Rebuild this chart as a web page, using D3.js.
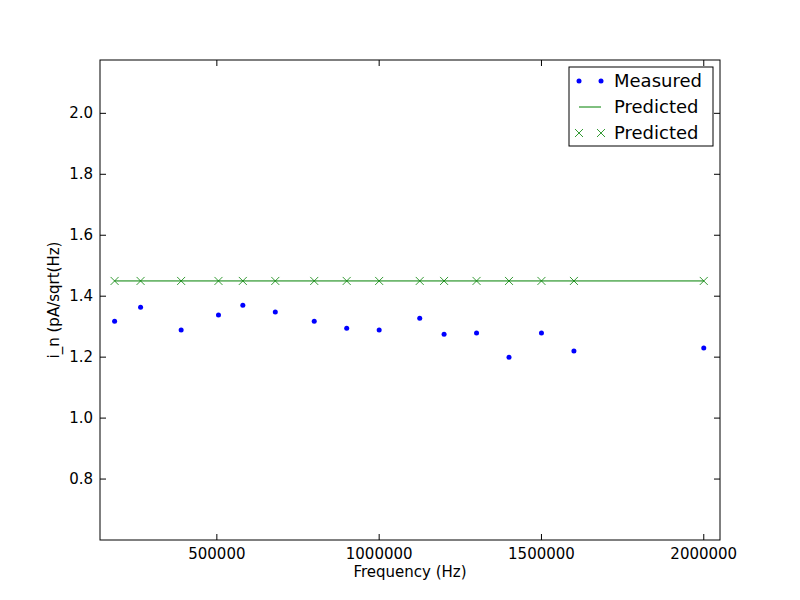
<!DOCTYPE html>
<html><head><meta charset="utf-8">
<script src="https://cdn.jsdelivr.net/npm/d3@7"></script>
<style>body{margin:0;background:#fff}text{font-family:"DejaVu Sans",sans-serif}</style>
</head><body><svg id="c" width="800" height="600"></svg>
<script>
const freq = [185000,265000,390000,505000,580000,680000,800000,900000,1000000,1125000,1200000,1300000,1400000,1500000,1600000,2000000];
const measured = [1.318,1.364,1.289,1.338,1.370,1.348,1.318,1.295,1.289,1.328,1.275,1.279,1.200,1.279,1.220,1.230];
const predicted = freq.map(()=>1.45);
const xTicks = [500000,1000000,1500000,2000000];
const yTicks = [0.8,1.0,1.2,1.4,1.6,1.8,2.0];

const svg = d3.select("#c");
const L=100,R=720,T=60,B=540;
const x = d3.scaleLinear().domain([140000,2050000]).range([L,R]);
const y = d3.scaleLinear().domain([0.6,2.175]).range([B,T]);

svg.append("rect").attr("width",800).attr("height",600).attr("fill","#fff");
const fmtY = d3.format(".1f");
const g = svg.append("g");
xTicks.forEach(v=>{
  g.append("line").attr("x1",x(v)).attr("x2",x(v)).attr("y1",B).attr("y2",B-6).attr("stroke","#000");
  g.append("line").attr("x1",x(v)).attr("x2",x(v)).attr("y1",T).attr("y2",T+6).attr("stroke","#000");
  g.append("text").attr("x",x(v)).attr("y",B+19).attr("text-anchor","middle").attr("font-size",15).text(v);
});
yTicks.forEach(v=>{
  g.append("line").attr("x1",L).attr("x2",L+6).attr("y1",y(v)).attr("y2",y(v)).attr("stroke","#000");
  g.append("line").attr("x1",R).attr("x2",R-6).attr("y1",y(v)).attr("y2",y(v)).attr("stroke","#000");
  g.append("text").attr("x",L-7).attr("y",y(v)+5).attr("text-anchor","end").attr("font-size",15).text(fmtY(v));
});
svg.append("path").datum(freq.map((f,i)=>[f,predicted[i]]))
  .attr("d",d3.line().x(d=>x(d[0])).y(d=>y(d[1]))).attr("fill","none").attr("stroke","#008000").attr("stroke-width",1);
const cross=(sel,cx,cy,s)=>{sel.append("path").attr("d",`M${cx-s},${cy-s}L${cx+s},${cy+s}M${cx-s},${cy+s}L${cx+s},${cy-s}`).attr("stroke","#008000").attr("stroke-width",0.8).attr("fill","none");};
freq.forEach((f,i)=>cross(svg,x(f),y(predicted[i]),4));
svg.selectAll("circle.m").data(freq).enter().append("circle")
  .attr("cx",d=>x(d)).attr("cy",(d,i)=>y(measured[i])).attr("r",2.5).attr("fill","#0000ff");
svg.append("rect").attr("x",L).attr("y",T).attr("width",R-L).attr("height",B-T).attr("fill","none").attr("stroke","#000");
svg.append("text").attr("x",(L+R)/2).attr("y",577).attr("text-anchor","middle").attr("font-size",15).text("Frequency (Hz)");
svg.append("text").attr("transform",`translate(59,${(T+B)/2}) rotate(-90)`).attr("text-anchor","middle").attr("font-size",15).text("i_n (pA/sqrt(Hz)");
const lg = svg.append("g");
lg.append("rect").attr("x",569).attr("y",67).attr("width",144).attr("height",79).attr("fill","#fff").attr("stroke","#000");
lg.append("circle").attr("cx",579).attr("cy",81).attr("r",2.5).attr("fill","#0000ff");
lg.append("circle").attr("cx",601).attr("cy",81).attr("r",2.5).attr("fill","#0000ff");
lg.append("line").attr("x1",579).attr("x2",601).attr("y1",107).attr("y2",107).attr("stroke","#008000");
cross(lg,579,133,4); cross(lg,601,133,4);
["Measured","Predicted","Predicted"].forEach((t,i)=>lg.append("text").attr("x",614).attr("y",87+i*26).attr("font-size",18).text(t));
</script></body></html>
